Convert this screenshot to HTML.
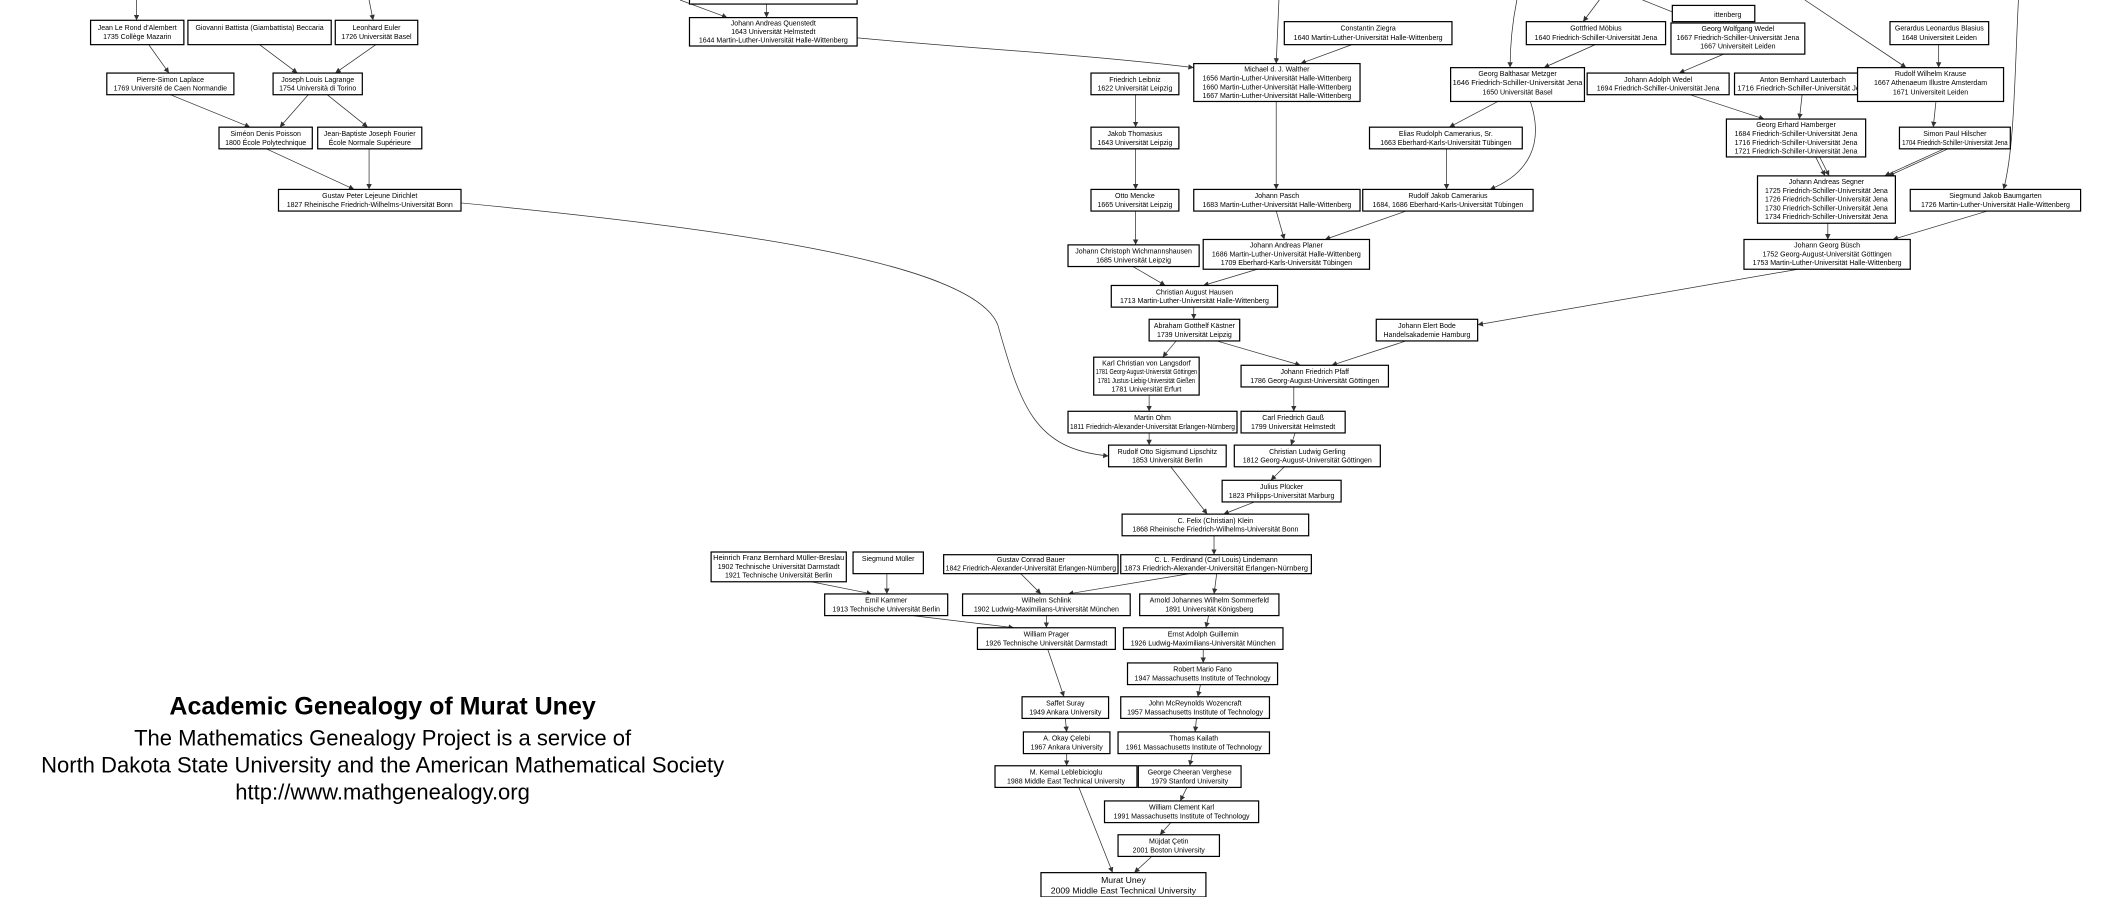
<!DOCTYPE html>
<html><head><meta charset="utf-8"><style>
html,body{margin:0;padding:0;background:#fff;}
svg{display:block}
text{font-family:"Liberation Sans",sans-serif;font-size:5.2px;fill:#000;text-anchor:middle}
rect{fill:#fff;stroke:#000;stroke-width:0.9}
.e{fill:none;stroke:#333;stroke-width:0.55;marker-end:url(#a)}
.t{font-size:16.3px}
</style></head><body>
<svg width="2109" height="897" viewBox="0 0 1560 663" preserveAspectRatio="none" xmlns="http://www.w3.org/2000/svg">
<defs><marker id="a" markerWidth="5" markerHeight="5" refX="4" refY="2" orient="auto" markerUnits="userSpaceOnUse"><path d="M0,0 L4,2 L0,4 z" fill="#333"/></marker></defs>

<path class="e" d="M101,0 L101,15"/>
<path class="e" d="M273,0 L276,15"/>
<path class="e" d="M110,33 L125,54"/>
<path class="e" d="M192,33 L220,54"/>
<path class="e" d="M278,33 L248,54"/>
<path class="e" d="M126,70 L185,94"/>
<path class="e" d="M228,70 L207,94"/>
<path class="e" d="M242,70 L272,94"/>
<path class="e" d="M197,110 L262,140"/>
<path class="e" d="M273,110 L273,140"/>
<path class="e" d="M341,150 C550,170 720,195 738,240 C755,300 765,332 820,337"/>
<path class="e" d="M503,0 L538,13"/>
<path class="e" d="M567,0 L567,13"/>
<path class="e" d="M634,28 C720,36 800,40 883,50"/>
<path class="e" d="M946,0 L944,47"/>
<path class="e" d="M1000,33 L962,47"/>
<path class="e" d="M840,70 L840,94"/>
<path class="e" d="M840,110 L840,140"/>
<path class="e" d="M840,156 L840,181"/>
<path class="e" d="M944,75 L944,140"/>
<path class="e" d="M944,156 L950,177"/>
<path class="e" d="M1040,156 L980,177"/>
<path class="e" d="M838,197 L862,211"/>
<path class="e" d="M930,199 L890,211"/>
<path class="e" d="M1070,110 L1070,140"/>
<path class="e" d="M1108,75 L1072,94"/>
<path class="e" d="M1132,75 C1142,105 1132,128 1102,140"/>
<path class="e" d="M1122,0 C1118,20 1117,35 1117,50"/>
<path class="e" d="M1183,0 L1171,16"/>
<path class="e" d="M1180,33 L1142,50"/>
<path class="e" d="M1215,0 L1255,16"/>
<path class="e" d="M1275,40 L1242,54"/>
<path class="e" d="M1250,70 L1305,88"/>
<path class="e" d="M1333,70 L1331,88"/>
<path class="e" d="M1335,0 L1410,50"/>
<path class="e" d="M1434,33 L1434,50"/>
<path class="e" d="M1432,75 L1430,94"/>
<path class="e" d="M1343,116 L1350,130"/>
<path class="e" d="M1346,116 L1353,130"/>
<path class="e" d="M1438,110 L1394,130"/>
<path class="e" d="M1441,110 L1397,130"/>
<path class="e" d="M1493,0 C1490,60 1490,110 1482,140"/>
<path class="e" d="M1352,165 L1352,177"/>
<path class="e" d="M1470,156 L1400,177"/>
<path class="e" d="M1330,199 L1093,240"/>
<path class="e" d="M883,227 L883,236"/>
<path class="e" d="M870,252 L860,264"/>
<path class="e" d="M900,252 L962,270"/>
<path class="e" d="M1040,252 L985,270"/>
<path class="e" d="M850,292 L850,304"/>
<path class="e" d="M957,286 L957,304"/>
<path class="e" d="M850,320 L850,329"/>
<path class="e" d="M958,320 L955,329"/>
<path class="e" d="M950,345 L940,355"/>
<path class="e" d="M866,345 L893,380"/>
<path class="e" d="M928,371 L905,380"/>
<path class="e" d="M898,396 L898,410"/>
<path class="e" d="M600,430 L645,439"/>
<path class="e" d="M656,424 L656,439"/>
<path class="e" d="M755,424 L770,439"/>
<path class="e" d="M880,424 L790,439"/>
<path class="e" d="M900,424 L898,439"/>
<path class="e" d="M675,455 L750,464"/>
<path class="e" d="M774,455 L774,464"/>
<path class="e" d="M894,455 L892,464"/>
<path class="e" d="M890,480 L890,490"/>
<path class="e" d="M888,506 L886,515"/>
<path class="e" d="M775,480 L787,515"/>
<path class="e" d="M788,531 L789,541"/>
<path class="e" d="M885,531 L884,541"/>
<path class="e" d="M789,557 L789,566"/>
<path class="e" d="M882,557 L880,566"/>
<path class="e" d="M878,582 L873,592"/>
<path class="e" d="M866,608 L858,617"/>
<path class="e" d="M798,582 L823,645"/>
<path class="e" d="M852,633 L839,645"/>

<rect x="510" y="-5" width="124" height="8"/>
<rect x="67" y="15" width="69" height="18"/><text x="101.5" y="22">Jean Le Rond d'Alembert</text><text x="101.5" y="29">1735 Collège Mazarin</text>
<rect x="139" y="15" width="106" height="18"/><text x="192" y="22">Giovanni Battista (Giambattista) Beccaria</text>
<rect x="248" y="15" width="61" height="18"/><text x="278.5" y="22">Leonhard Euler</text><text x="278.5" y="29">1726 Universität Basel</text>
<rect x="79" y="54" width="94" height="16"/><text x="126" y="60.5">Pierre-Simon Laplace</text><text x="126" y="67">1769 Université de Caen Normandie</text>
<rect x="202" y="54" width="66" height="16"/><text x="235" y="60.5">Joseph Louis Lagrange</text><text x="235" y="67">1754 Università di Torino</text>
<rect x="162" y="94" width="69" height="16"/><text x="196.5" y="100.5">Siméon Denis Poisson</text><text x="196.5" y="107">1800 École Polytechnique</text>
<rect x="235" y="94" width="77" height="16"/><text x="273.5" y="100.5">Jean-Baptiste Joseph Fourier</text><text x="273.5" y="107">École Normale Supérieure</text>
<rect x="206" y="140" width="135" height="16"/><text x="273.5" y="146.5">Gustav Peter Lejeune Dirichlet</text><text x="273.5" y="153">1827 Rheinische Friedrich-Wilhelms-Universität Bonn</text>

<rect x="510" y="13" width="124" height="21"/><text x="572" y="19">Johann Andreas Quenstedt</text><text x="572" y="25.2">1643 Universität Helmstedt</text><text x="572" y="31.4">1644 Martin-Luther-Universität Halle-Wittenberg</text>
<rect x="950" y="16" width="124" height="17"/><text x="1012" y="22.5">Constantin Ziegra</text><text x="1012" y="29.5">1640 Martin-Luther-Universität Halle-Wittenberg</text>
<rect x="883" y="47" width="123" height="28"/><text x="944.5" y="53">Michael d. J. Walther</text><text x="944.5" y="59.5">1656 Martin-Luther-Universität Halle-Wittenberg</text><text x="944.5" y="66">1660 Martin-Luther-Universität Halle-Wittenberg</text><text x="944.5" y="72.5">1667 Martin-Luther-Universität Halle-Wittenberg</text>
<rect x="807" y="54" width="65" height="16"/><text x="839.5" y="60.5">Friedrich Leibniz</text><text x="839.5" y="67">1622 Universität Leipzig</text>
<rect x="807" y="94" width="65" height="16"/><text x="839.5" y="100.5">Jakob Thomasius</text><text x="839.5" y="107">1643 Universität Leipzig</text>
<rect x="807" y="140" width="65" height="16"/><text x="839.5" y="146.5">Otto Mencke</text><text x="839.5" y="153">1665 Universität Leipzig</text>
<rect x="790" y="181" width="97" height="16"/><text x="838.5" y="187.5">Johann Christoph Wichmannshausen</text><text x="838.5" y="194">1685 Universität Leipzig</text>
<rect x="883" y="140" width="123" height="16"/><text x="944.5" y="146.5">Johann Pasch</text><text x="944.5" y="153">1683 Martin-Luther-Universität Halle-Wittenberg</text>
<rect x="1013" y="94" width="113" height="16"/><text x="1069.5" y="100.5">Elias Rudolph Camerarius, Sr.</text><text x="1069.5" y="107">1663 Eberhard-Karls-Universität Tübingen</text>
<rect x="1008" y="140" width="126" height="16"/><text x="1071" y="146.5">Rudolf Jakob Camerarius</text><text x="1071" y="153">1684, 1686 Eberhard-Karls-Universität Tübingen</text>
<rect x="890" y="177" width="123" height="22"/><text x="951.5" y="183">Johann Andreas Planer</text><text x="951.5" y="189.5">1686 Martin-Luther-Universität Halle-Wittenberg</text><text x="951.5" y="196">1709 Eberhard-Karls-Universität Tübingen</text>
<rect x="822" y="211" width="123" height="16"/><text x="883.5" y="217.5">Christian August Hausen</text><text x="883.5" y="224">1713 Martin-Luther-Universität Halle-Wittenberg</text>

<rect x="1129" y="16" width="103" height="17"/><text x="1180.5" y="22.5">Gottfried Möbius</text><text x="1180.5" y="29.5">1640 Friedrich-Schiller-Universität Jena</text>
<rect x="1236" y="17" width="99" height="23"/><text x="1285.5" y="23">Georg Wolfgang Wedel</text><text x="1285.5" y="29.5">1667 Friedrich-Schiller-Universität Jena</text><text x="1285.5" y="36">1667 Universiteit Leiden</text>
<rect x="1237" y="4" width="61" height="12"/><text x="1278" y="12.5">ittenberg</text>
<rect x="1398" y="16" width="73" height="17"/><text x="1434.5" y="22.5">Gerardus Leonardus Blasius</text><text x="1434.5" y="29.5">1648 Universiteit Leiden</text>
<rect x="1073" y="50" width="99" height="25"/><text x="1122.5" y="56">Georg Balthasar Metzger</text><text x="1122.5" y="63" textLength="96" lengthAdjust="spacingAndGlyphs">1646 Friedrich-Schiller-Universität Jena</text><text x="1122.5" y="70">1650 Universität Basel</text>
<rect x="1174" y="54" width="105" height="16"/><text x="1226.5" y="60.5">Johann Adolph Wedel</text><text x="1226.5" y="67">1694 Friedrich-Schiller-Universität Jena</text>
<rect x="1283" y="54" width="101" height="16"/><text x="1333.5" y="60.5">Anton Bernhard Lauterbach</text><text x="1333.5" y="67" textLength="97" lengthAdjust="spacingAndGlyphs">1716 Friedrich-Schiller-Universität Jena</text>
<rect x="1374" y="50" width="108" height="25"/><text x="1428" y="56">Rudolf Wilhelm Krause</text><text x="1428" y="63">1667 Athenaeum Illustre Amsterdam</text><text x="1428" y="70">1671 Universiteit Leiden</text>
<rect x="1277" y="88" width="103" height="28"/><text x="1328.5" y="94">Georg Erhard Hamberger</text><text x="1328.5" y="100.5">1684 Friedrich-Schiller-Universität Jena</text><text x="1328.5" y="107">1716 Friedrich-Schiller-Universität Jena</text><text x="1328.5" y="113.5">1721 Friedrich-Schiller-Universität Jena</text>
<rect x="1405" y="94" width="82" height="16"/><text x="1446" y="100.5">Simon Paul Hilscher</text><text x="1446" y="107" textLength="78" lengthAdjust="spacingAndGlyphs">1704 Friedrich-Schiller-Universität Jena</text>
<rect x="1300" y="130" width="102" height="35"/><text x="1351" y="136">Johann Andreas Segner</text><text x="1351" y="142.5">1725 Friedrich-Schiller-Universität Jena</text><text x="1351" y="149">1726 Friedrich-Schiller-Universität Jena</text><text x="1351" y="155.5">1730 Friedrich-Schiller-Universität Jena</text><text x="1351" y="162">1734 Friedrich-Schiller-Universität Jena</text>
<rect x="1413" y="140" width="126" height="16"/><text x="1476" y="146.5">Siegmund Jakob Baumgarten</text><text x="1476" y="153">1726 Martin-Luther-Universität Halle-Wittenberg</text>
<rect x="1290" y="177" width="123" height="22"/><text x="1351.5" y="183">Johann Georg Büsch</text><text x="1351.5" y="189.5">1752 Georg-August-Universität Göttingen</text><text x="1351.5" y="196">1753 Martin-Luther-Universität Halle-Wittenberg</text>

<rect x="1018" y="236" width="75" height="16"/><text x="1055.5" y="242.5">Johann Elert Bode</text><text x="1055.5" y="249">Handelsakademie Hamburg</text>
<rect x="850" y="236" width="67" height="16"/><text x="883.5" y="242.5">Abraham Gotthelf Kästner</text><text x="883.5" y="249">1739 Universität Leipzig</text>
<rect x="809" y="264" width="78" height="28"/><text x="848" y="270">Karl Christian von Langsdorf</text><text x="848" y="276.5" textLength="75" lengthAdjust="spacingAndGlyphs">1781 Georg-August-Universität Göttingen</text><text x="848" y="283" textLength="72" lengthAdjust="spacingAndGlyphs">1781 Justus-Liebig-Universität Gießen</text><text x="848" y="289.5">1781 Universität Erfurt</text>
<rect x="918" y="270" width="109" height="16"/><text x="972.5" y="276.5">Johann Friedrich Pfaff</text><text x="972.5" y="283">1786 Georg-August-Universität Göttingen</text>
<rect x="790" y="304" width="125" height="16"/><text x="852.5" y="310.5">Martin Ohm</text><text x="852.5" y="317" textLength="122" lengthAdjust="spacingAndGlyphs">1811 Friedrich-Alexander-Universität Erlangen-Nürnberg</text>
<rect x="918" y="304" width="77" height="16"/><text x="956.5" y="310.5">Carl Friedrich Gauß</text><text x="956.5" y="317">1799 Universität Helmstedt</text>
<rect x="820" y="329" width="87" height="16"/><text x="863.5" y="335.5">Rudolf Otto Sigismund Lipschitz</text><text x="863.5" y="342">1853 Universität Berlin</text>
<rect x="913" y="329" width="108" height="16"/><text x="967" y="335.5">Christian Ludwig Gerling</text><text x="967" y="342">1812 Georg-August-Universität Göttingen</text>
<rect x="904" y="355" width="88" height="16"/><text x="948" y="361.5">Julius Plücker</text><text x="948" y="368">1823 Philipps-Universität Marburg</text>
<rect x="830" y="380" width="138" height="16"/><text x="899" y="386.5">C. Felix (Christian) Klein</text><text x="899" y="393">1868 Rheinische Friedrich-Wilhelms-Universität Bonn</text>

<rect x="526" y="408" width="100" height="22"/><text x="576" y="414" textLength="97" lengthAdjust="spacingAndGlyphs">Heinrich Franz Bernhard Müller-Breslau</text><text x="576" y="420.5">1902 Technische Universität Darmstadt</text><text x="576" y="427">1921 Technische Universität Berlin</text>
<rect x="631" y="408" width="52" height="16"/><text x="657" y="414.5">Siegmund Müller</text>
<rect x="698" y="410" width="129" height="14"/><text x="762.5" y="415.5">Gustav Conrad Bauer</text><text x="762.5" y="421.5" textLength="126" lengthAdjust="spacingAndGlyphs">1842 Friedrich-Alexander-Universität Erlangen-Nürnberg</text>
<rect x="829" y="410" width="141" height="14"/><text x="899.5" y="415.5">C. L. Ferdinand (Carl Louis) Lindemann</text><text x="899.5" y="421.5" textLength="136" lengthAdjust="spacingAndGlyphs">1873 Friedrich-Alexander-Universität Erlangen-Nürnberg</text>
<rect x="610" y="439" width="91" height="16"/><text x="655.5" y="445.5">Emil Kammer</text><text x="655.5" y="452">1913 Technische Universität Berlin</text>
<rect x="712" y="439" width="124" height="16"/><text x="774" y="445.5">Wilhelm Schlink</text><text x="774" y="452">1902 Ludwig-Maximilians-Universität München</text>
<rect x="843" y="439" width="103" height="16"/><text x="894.5" y="445.5">Arnold Johannes Wilhelm Sommerfeld</text><text x="894.5" y="452">1891 Universität Königsberg</text>
<rect x="723" y="464" width="102" height="16"/><text x="774" y="470.5">William Prager</text><text x="774" y="477">1926 Technische Universität Darmstadt</text>
<rect x="831" y="464" width="118" height="16"/><text x="890" y="470.5">Ernst Adolph Guillemin</text><text x="890" y="477">1926 Ludwig-Maximilians-Universität München</text>
<rect x="834" y="490" width="111" height="16"/><text x="889.5" y="496.5">Robert Mario Fano</text><text x="889.5" y="503">1947 Massachusetts Institute of Technology</text>
<rect x="756" y="515" width="64" height="16"/><text x="788" y="521.5">Saffet Suray</text><text x="788" y="528">1949 Ankara University</text>
<rect x="829" y="515" width="110" height="16"/><text x="884" y="521.5">John McReynolds Wozencraft</text><text x="884" y="528">1957 Massachusetts Institute of Technology</text>
<rect x="757" y="541" width="64" height="16"/><text x="789" y="547.5">A. Okay Çelebi</text><text x="789" y="554">1967 Ankara University</text>
<rect x="827" y="541" width="112" height="16"/><text x="883" y="547.5">Thomas Kailath</text><text x="883" y="554">1961 Massachusetts Institute of Technology</text>
<rect x="736" y="566" width="105" height="16"/><text x="788.5" y="572.5">M. Kemal Leblebicioglu</text><text x="788.5" y="579">1988 Middle East Technical University</text>
<rect x="842" y="566" width="76" height="16"/><text x="880" y="572.5">George Cheeran Verghese</text><text x="880" y="579">1979 Stanford University</text>
<rect x="817" y="592" width="114" height="16"/><text x="874" y="598.5">William Clement Karl</text><text x="874" y="605">1991 Massachusetts Institute of Technology</text>
<rect x="827" y="617" width="75" height="16"/><text x="864.5" y="623.5">Müjdat Çetin</text><text x="864.5" y="630">2001 Boston University</text>
<rect x="770" y="645" width="122" height="18"/><text x="831" y="652.5" style="font-size:6.4px">Murat Uney</text><text x="831" y="660.5" style="font-size:6.4px">2009 Middle East Technical University</text>

<text x="283" y="528" style="font-weight:bold;font-size:18.5px">Academic Genealogy of Murat Uney</text>
<text x="283" y="551" class="t">The Mathematics Genealogy Project is a service of</text>
<text x="283" y="571" class="t">North Dakota State University and the American Mathematical Society</text>
<text x="283" y="591" class="t">http://www.mathgenealogy.org</text>
</svg>
</body></html>
